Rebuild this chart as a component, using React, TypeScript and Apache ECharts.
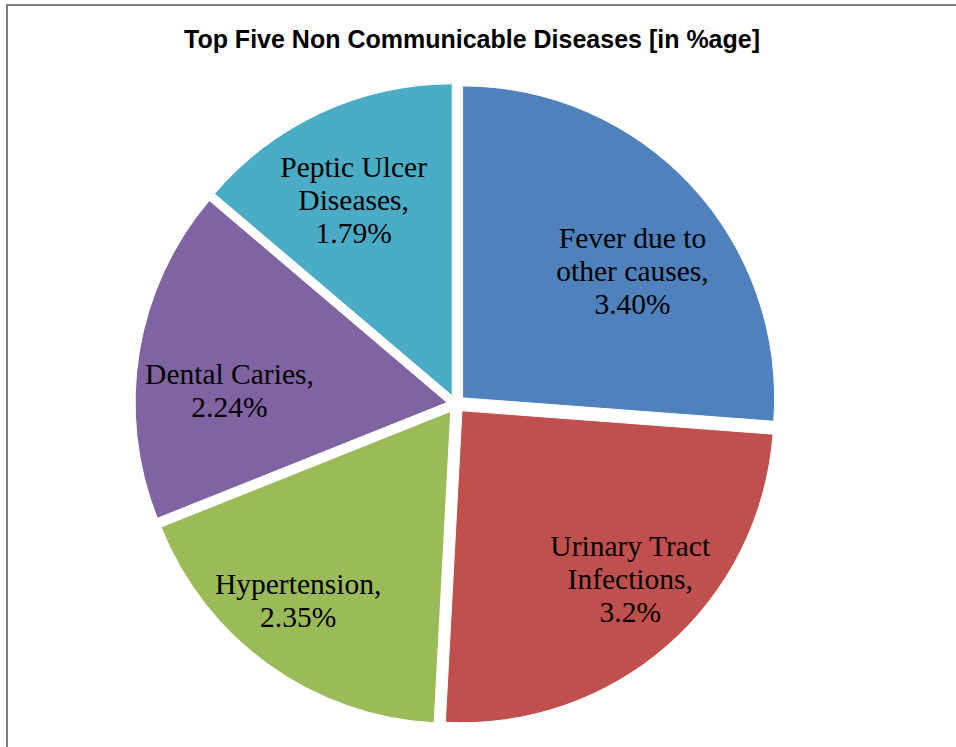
import React, { useEffect, useRef } from "react";
import * as echarts from "echarts";

const categories = [
  "Fever due to other causes",
  "Urinary Tract Infections",
  "Hypertension",
  "Dental Caries",
  "Peptic Ulcer Diseases",
];
const labelLines = [
  "Fever due to\nother causes,",
  "Urinary Tract\nInfections,",
  "Hypertension,",
  "Dental Caries,",
  "Peptic Ulcer\nDiseases,",
];
const values = [3.4, 3.2, 2.35, 2.24, 1.79];
const valueLabels = ["3.40%", "3.2%", "2.35%", "2.24%", "1.79%"];
const colors = ["#4F81BD", "#C0504D", "#9BBB59", "#8064A2", "#4BACC6"];

// small per-label nudges to mimic Excel's best-fit label placement
const labelNudges = [
  [3, 28],
  [18, -3],
  [-20, 4],
  [7, 25],
  [-3, 11],
];

export default function App() {
  const ref = useRef<HTMLDivElement>(null);
  useEffect(() => {
    if (!ref.current) return;
    const chart = echarts.init(ref.current, undefined, { renderer: "svg" });
    const center = [456, 404];
    const R = 312;
    const off = 9;
    const pieData = categories.map((c, i) => ({
      name: c,
      value: values[i],
      selected: true,
      itemStyle: { color: colors[i] },
    }));
    const ghostData = categories.map((c, i) => ({
      name: c,
      value: values[i],
      selected: true,
      itemStyle: { color: "rgba(0,0,0,0)" },
      label: { formatter: labelLines[i] + "\n" + valueLabels[i] },
    }));
    chart.setOption({
      animation: false,
      backgroundColor: "#ffffff",
      title: {
        text: "Top Five Non Communicable Diseases [in %age]",
        left: 467,
        top: 21,
        textAlign: "center",
        textStyle: {
          fontFamily: "Liberation Sans",
          fontWeight: "bold",
          fontSize: 25,
          color: "#000000",
        },
      },
      graphic: [
        {
          type: "rect",
          shape: { x: 7, y: 5, width: 970, height: 780 },
          style: { fill: "none", stroke: "#7f7f7f", lineWidth: 2 },
          silent: true,
        },
      ],
      series: [
        {
          type: "pie",
          center,
          radius: [0, R],
          startAngle: 90,
          clockwise: true,
          selectedMode: "multiple",
          selectedOffset: off,
          label: { show: false },
          labelLine: { show: false },
          emphasis: { disabled: true },
          itemStyle: { borderColor: "#ffffff", borderWidth: 1 },
          data: pieData,
        },
        {
          type: "pie",
          center,
          radius: [0, R * 1.44],
          startAngle: 90,
          clockwise: true,
          selectedMode: "multiple",
          selectedOffset: off,
          silent: true,
          emphasis: { disabled: true },
          label: {
            show: true,
            position: "inside",
            fontFamily: "Liberation Serif",
            fontSize: 29.5,
            lineHeight: 33,
            color: "#000000",
            align: "center",
          },
          labelLine: { show: false },
          labelLayout: (p: any) => ({
            dx: labelNudges[p.dataIndex][0],
            dy: labelNudges[p.dataIndex][1],
          }),
          data: ghostData,
        },
      ],
    });
    return () => chart.dispose();
  }, []);
  return (
    <div
      ref={ref}
      style={{ position: "absolute", left: 0, top: 0, width: 956, height: 747 }}
    />
  );
}
